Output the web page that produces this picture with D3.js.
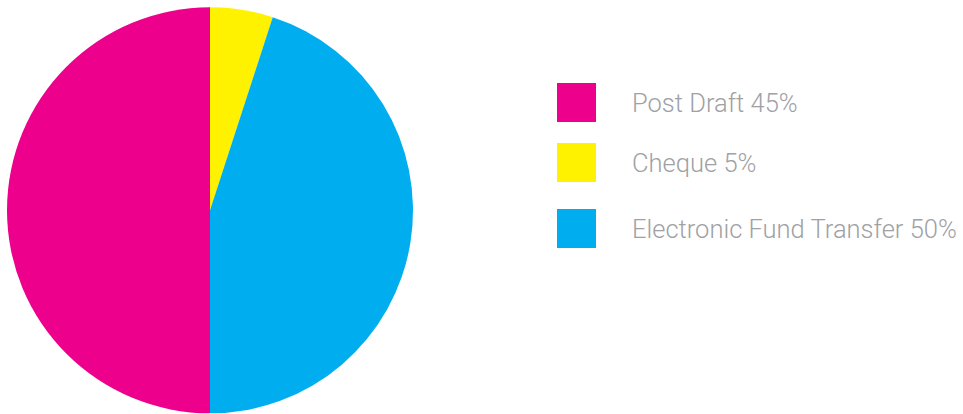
<!DOCTYPE html>
<html>
<head>
<meta charset="utf-8">
<script src="https://cdn.jsdelivr.net/npm/d3@7"></script>
<style>
  html, body { margin: 0; padding: 0; background: #ffffff; }
  svg { display: block; }
</style>
</head>
<body>
<svg id="chart" width="963" height="414"></svg>
<script>
// Slice order (clockwise from 12 o'clock) and values as drawn in the picture
const sliceNames = ["Cheque", "Electronic Fund Transfer", "Post Draft"];
const sliceValues = [5, 45, 50];
const sliceColors = ["#FFF200", "#00AEEF", "#EC008C"];

// Legend entries, as printed
const legendNames = ["Post Draft", "Cheque", "Electronic Fund Transfer"];
const legendPercents = [45, 5, 50];
const legendColors = ["#EC008C", "#FFF200", "#00AEEF"];

const svg = d3.select("#chart");

const cx = 210, cy = 210.3, radius = 203;

const pie = d3.pie().sort(null).value(d => d.value);
const arc = d3.arc().innerRadius(0).outerRadius(radius);

const sliceData = sliceNames.map((n, i) => ({ name: n, value: sliceValues[i], color: sliceColors[i] }));

svg.append("g")
  .attr("transform", `translate(${cx},${cy})`)
  .selectAll("path")
  .data(pie(sliceData))
  .join("path")
  .attr("d", arc)
  .attr("fill", d => d.data.color);

// legend square tops as in the picture
const legendTops = [83, 143, 209];

const lg = svg.append("g");
const items = lg.selectAll("g")
  .data(legendNames.map((n, i) => ({ name: n, pct: legendPercents[i], color: legendColors[i], top: legendTops[i] })))
  .join("g")
  .attr("transform", d => `translate(557,${d.top})`);

items.append("rect")
  .attr("width", 39)
  .attr("height", 39)
  .attr("fill", d => d.color);

items.append("text")
  .attr("x", 75)
  .attr("y", 28.7)
  .attr("font-family", "Roboto, 'Helvetica Neue', Arial, sans-serif")
  .attr("font-weight", 300)
  .attr("font-size", 25.5)
  .attr("fill", "#A0A1A5")
  .text(d => `${d.name} ${d.pct}%`);
</script>
</body>
</html>
